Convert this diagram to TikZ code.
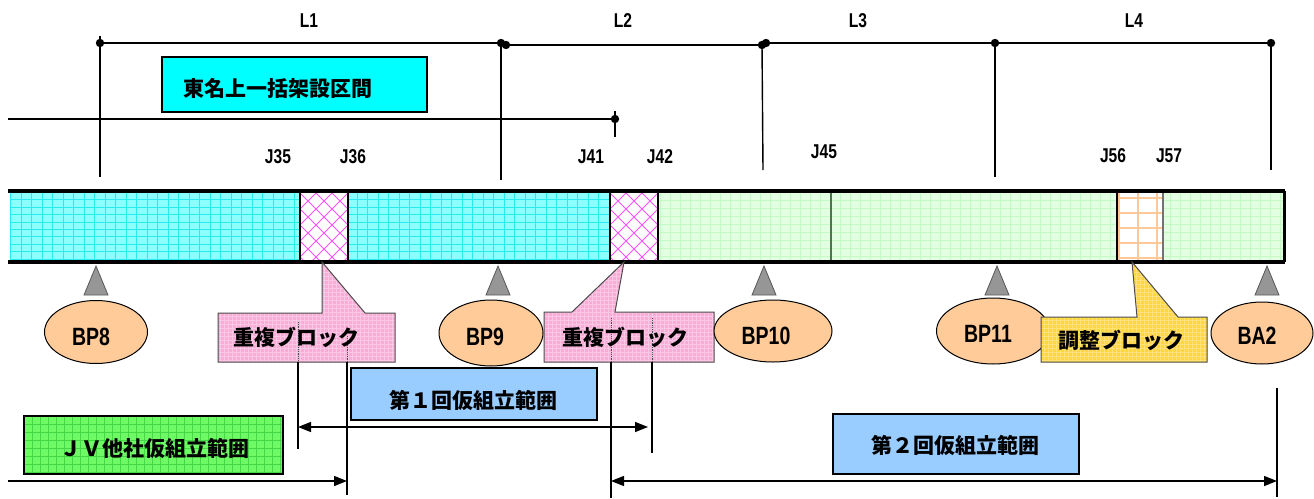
\documentclass[tikz,border=0pt]{standalone}
\usepackage{fontspec}
\newfontfamily\jp{Noto Sans CJK JP}
\newfontfamily\lat[FakeStretch=0.78]{Liberation Sans}
\usetikzlibrary{arrows.meta,shapes.geometric}
\definecolor{aqua}{RGB}{0,255,255}
\definecolor{cyanbase}{RGB}{140,255,255}
\definecolor{cyangrid}{RGB}{40,235,240}
\definecolor{grbase}{RGB}{226,255,226}
\definecolor{grgrid}{RGB}{196,250,196}
\definecolor{hatch}{RGB}{255,80,255}
\definecolor{orgrid}{RGB}{255,200,150}
\definecolor{peach}{RGB}{255,204,153}
\definecolor{calpink}{RGB}{248,172,214}
\definecolor{calyel}{RGB}{255,214,60}
\definecolor{blu}{RGB}{153,204,255}
\definecolor{jvgreen}{RGB}{110,250,100}
\definecolor{jvgrid}{RGB}{70,215,70}
\definecolor{trigray}{RGB}{150,150,150}
\tikzset{
  jt/.style={font=\jp\bfseries\fontsize{21}{21}\selectfont, inner sep=0pt},
  lt/.style={font=\lat\bfseries\fontsize{20}{20}\selectfont, inner sep=0pt},
  bpt/.style={font=\lat\bfseries\fontsize{25}{25}\selectfont, inner sep=0pt},
  dimln/.style={line width=1.4pt, black},
  dotln/.style={line width=0.8pt, densely dotted, black!70},
  barln/.style={line width=4pt, black},
  sep/.style={line width=2pt, black},
  bp/.style={ellipse, draw=black, line width=1pt, fill=peach, inner sep=0pt},
  tri/.style={fill=trigray, draw=black!65, line width=0.8pt},
  callbox/.style={draw=black!70, line width=1pt},
  tbox/.style={draw=black, line width=1.5pt, inner sep=0pt},
  arr/.style={line width=1.4pt, arrows={-Triangle[length=13pt,width=10pt]}},
  darr/.style={line width=1.4pt, arrows={Triangle[length=13pt,width=10pt]-Triangle[length=13pt,width=10pt]}},
}
\begin{document}
\begin{tikzpicture}[x=1pt,y=-1pt]
\useasboundingbox (0,0) rectangle (1314,498);
\fill[white] (0,0) rectangle (1314,498);

% ---------- top dimension line ----------
\coordinate (a1) at (100,43);
\coordinate (a2) at (501,43);
\coordinate (a2b) at (506,45);
\coordinate (a3) at (762,45);
\coordinate (a3b) at (766,43);
\coordinate (a4) at (995,43);
\coordinate (a5) at (1271,43);
\coordinate (v1t) at (100,36);
\coordinate (v1) at (100,177);
\coordinate (v2) at (501,180);
\coordinate (v3) at (763,170);
\coordinate (v4) at (995,177);
\coordinate (v5) at (1271,170);
\draw[dimln] (a1) -- (a2);
\draw[dimln] (a2b) -- (a3);
\draw[dimln] (a3b) -- (a4) -- (a5);
\draw[dimln] (v1t) -- (v1);
\draw[dimln] (a2) -- (v2);
\draw[dimln] (a3) -- (v3);
\draw[dimln] (a4) -- (v4);
\draw[dimln] (a5) -- (v5);
\foreach \p in {a1,a2,a2b,a3,a3b,a4,a5} \fill (\p) circle (4.2pt);

\node[lt] (L1) at (309,21) {L1};
\node[lt] (L2) at (623,21) {L2};
\node[lt] (L3) at (858,21) {L3};
\node[lt] (L4) at (1134,21) {L4};

% ---------- second line ----------
\coordinate (b0) at (8,119);
\coordinate (b1) at (615,119);
\coordinate (b1t) at (615,111);
\coordinate (b1b) at (615,137);
\draw[dimln] (b0) -- (b1);
\draw[dimln] (b1t) -- (b1b);
\fill (b1) circle (4.2pt);

\node[tbox, fill=aqua, minimum width=265pt, minimum height=55pt] (tomei) at (294.5,84.5) {};
\node[jt] (tomeit) at (278,88) {東名上一括架設区間};

% ---------- J labels ----------
\node[lt] (j35) at (278,157) {J35};
\node[lt] (j36) at (353,157) {J36};
\node[lt] (j41) at (591,157) {J41};
\node[lt] (j42) at (660,157) {J42};
\node[lt] (j45) at (824,152) {J45};
\node[lt] (j56) at (1113,156) {J56};
\node[lt] (j57) at (1169,156) {J57};

% ---------- girder bar ----------
\foreach \xa/\xb in {10/300,348/610} {
  \begin{scope}
    \clip (\xa,193) rectangle (\xb,260);
    \fill[cyanbase] (\xa,193) rectangle (\xb,260);
    \draw[cyangrid, line width=0.7pt, xstep=10.5pt, ystep=7.4pt] (0,190) grid (700,264);
  \end{scope}
}
\foreach \xa/\xb in {300/348,610/658} {
  \begin{scope}
    \clip (\xa,193) rectangle (\xb,260);
    \fill[white] (\xa,193) rectangle (\xb,260);
    \foreach \k in {-6,...,8} {
      \draw[hatch, line width=1pt] (\xa+\k*16,193) -- ++(68,68);
      \draw[hatch, line width=1pt] (\xa+\k*16,193) -- ++(-68,68);
    }
  \end{scope}
}
\foreach \xa/\xb in {658/1117,1163/1284} {
  \begin{scope}
    \clip (\xa,193) rectangle (\xb,260);
    \fill[grbase] (\xa,193) rectangle (\xb,260);
    \draw[grgrid, line width=0.6pt, xstep=10pt, ystep=8pt] (600,190) grid (1300,264);
  \end{scope}
}
\begin{scope}
  \clip (1117,193) rectangle (1163,260);
  \fill[white] (1117,193) rectangle (1163,260);
  \foreach \xx in {1119,1138,1157} \draw[orgrid, line width=2pt] (\xx,190) -- (\xx,264);
  \foreach \yy in {198,213,228,243,258} \draw[orgrid, line width=2pt] (1110,\yy) -- (1170,\yy);
\end{scope}
\draw[black!60!green!40!gray, line width=1.2pt] (831,193) -- (831,260);
\draw[black!55, line width=1.5pt] (1163,193) -- (1163,260);
\foreach \xx in {300,348,610,658,1117} \draw[sep] (\xx,191) -- (\xx,262);
\draw[barln] (8,191) -- (1285,191);
\draw[barln] (8,262) -- (1285,262);
\draw[line width=3pt] (1284,191) -- (1284,262);

% ---------- support triangles ----------
\foreach \xx in {96,498,764,997,1267}
  \draw[tri] (\xx-12,295) -- (\xx,266) -- (\xx+12,295) -- cycle;

% ---------- pink callouts ----------
\begin{scope}
  \clip (218,313) -- (322,313) -- (322,262) -- (365,313) -- (395,313) -- (395,362) -- (218,362) -- cycle;
  \fill[calpink] (200,250) rectangle (400,370);
  \draw[white, opacity=0.35, line width=0.5pt, step=4pt] (200,250) grid (400,370);
\end{scope}
\draw[callbox] (218,313) -- (322,313) -- (322,262) -- (365,313) -- (395,313) -- (395,362) -- (218,362) -- cycle;
\begin{scope}
  \clip (544,312) -- (572,312) -- (624,262) -- (615,312) -- (714,312) -- (714,362) -- (544,362) -- cycle;
  \fill[calpink] (540,250) rectangle (720,370);
  \draw[white, opacity=0.35, line width=0.5pt, step=4pt] (540,250) grid (720,370);
\end{scope}
\draw[callbox] (544,312) -- (572,312) -- (624,262) -- (615,312) -- (714,312) -- (714,362) -- (544,362) -- cycle;

\draw[dotln] (298,322) -- (298,362);
\draw[dotln] (347,336) -- (347,362);
\draw[dotln] (611,318) -- (611,362);
\draw[dotln] (652,318) -- (652,362);

\node[jt] (dup1) at (296,337) {重複ブロック};
\node[jt] (dup2) at (625,337) {重複ブロック};

% ---------- bearing ellipses ----------
\node[bp, minimum width=103pt, minimum height=63pt] (bp8) at (96,332) {};
\node[bp, minimum width=104pt, minimum height=66pt] (bp9) at (491,333) {};
\node[bp, minimum width=118pt, minimum height=62pt] (bp10) at (773,331) {};
\node[bp, minimum width=113pt, minimum height=66pt] (bp11) at (993,331) {};
\node[bp, minimum width=102pt, minimum height=62pt] (ba2) at (1262,333) {};
\node[bpt] (bp8t) at (91,337) {BP8};
\node[bpt] (bp9t) at (485,337) {BP9};
\node[bpt] (bp10t) at (766,336) {BP10};
\node[bpt] (bp11t) at (988,334) {BP11};
\node[bpt] (ba2t) at (1257,336) {BA2};

% ---------- yellow callout ----------
\begin{scope}
  \clip (1041,317) -- (1137,317) -- (1132,262) -- (1178,317) -- (1207,317) -- (1207,362) -- (1041,362) -- cycle;
  \fill[calyel] (1030,250) rectangle (1210,370);
  \draw[white, opacity=0.3, line width=0.5pt, step=4pt] (1030,250) grid (1210,370);
\end{scope}
\draw[callbox] (1041,317) -- (1137,317) -- (1132,262) -- (1178,317) -- (1207,317) -- (1207,362) -- (1041,362) -- cycle;
\node[jt] (adj) at (1121,340) {調整ブロック};

% ---------- range boxes ----------
\node[tbox, fill=blu, minimum width=246pt, minimum height=52pt] (r1) at (474,394) {};
\node[jt] (r1t) at (473,400) {第１回仮組立範囲};
\node[tbox, fill=blu, minimum width=246pt, minimum height=60pt] (r2) at (956,444) {};
\node[jt] (r2t) at (955,445) {第２回仮組立範囲};
\begin{scope}
  \clip (24,416) rectangle (283,474);
  \fill[jvgreen] (24,416) rectangle (283,474);
  \draw[jvgrid, line width=0.6pt, step=8pt] (0,400) grid (300,480);
\end{scope}
\node[tbox, minimum width=259pt, minimum height=58pt] (jv) at (153.5,445) {};
\node[jt] (jvt) at (155,448) {ＪＶ他社仮組立範囲};

% ---------- lower dimension lines ----------
\coordinate (d1t) at (298,362);  \coordinate (d1b) at (298,449);
\coordinate (d2t) at (347,362);  \coordinate (d2b) at (347,495);
\coordinate (d3t) at (611,362);  \coordinate (d3b) at (611,498);
\coordinate (d4t) at (652,362);  \coordinate (d4b) at (652,453);
\coordinate (d5t) at (1277,388); \coordinate (d5b) at (1277,497);
\draw[dimln] (d1t) -- (d1b);
\draw[dimln] (d2t) -- (d2b);
\draw[dimln] (d3t) -- (d3b);
\draw[dimln] (d4t) -- (d4b);
\draw[dimln] (d5t) -- (d5b);

\coordinate (e1a) at (298,427); \coordinate (e1b) at (648,427);
\coordinate (e2a) at (8,481);   \coordinate (e2b) at (347,481);
\coordinate (e3a) at (611,481); \coordinate (e3b) at (1277,481);
\draw[darr] (e1a) -- (e1b);
\draw[arr] (e2a) -- (e2b);
\draw[darr] (e3a) -- (e3b);
\end{tikzpicture}
\end{document}
